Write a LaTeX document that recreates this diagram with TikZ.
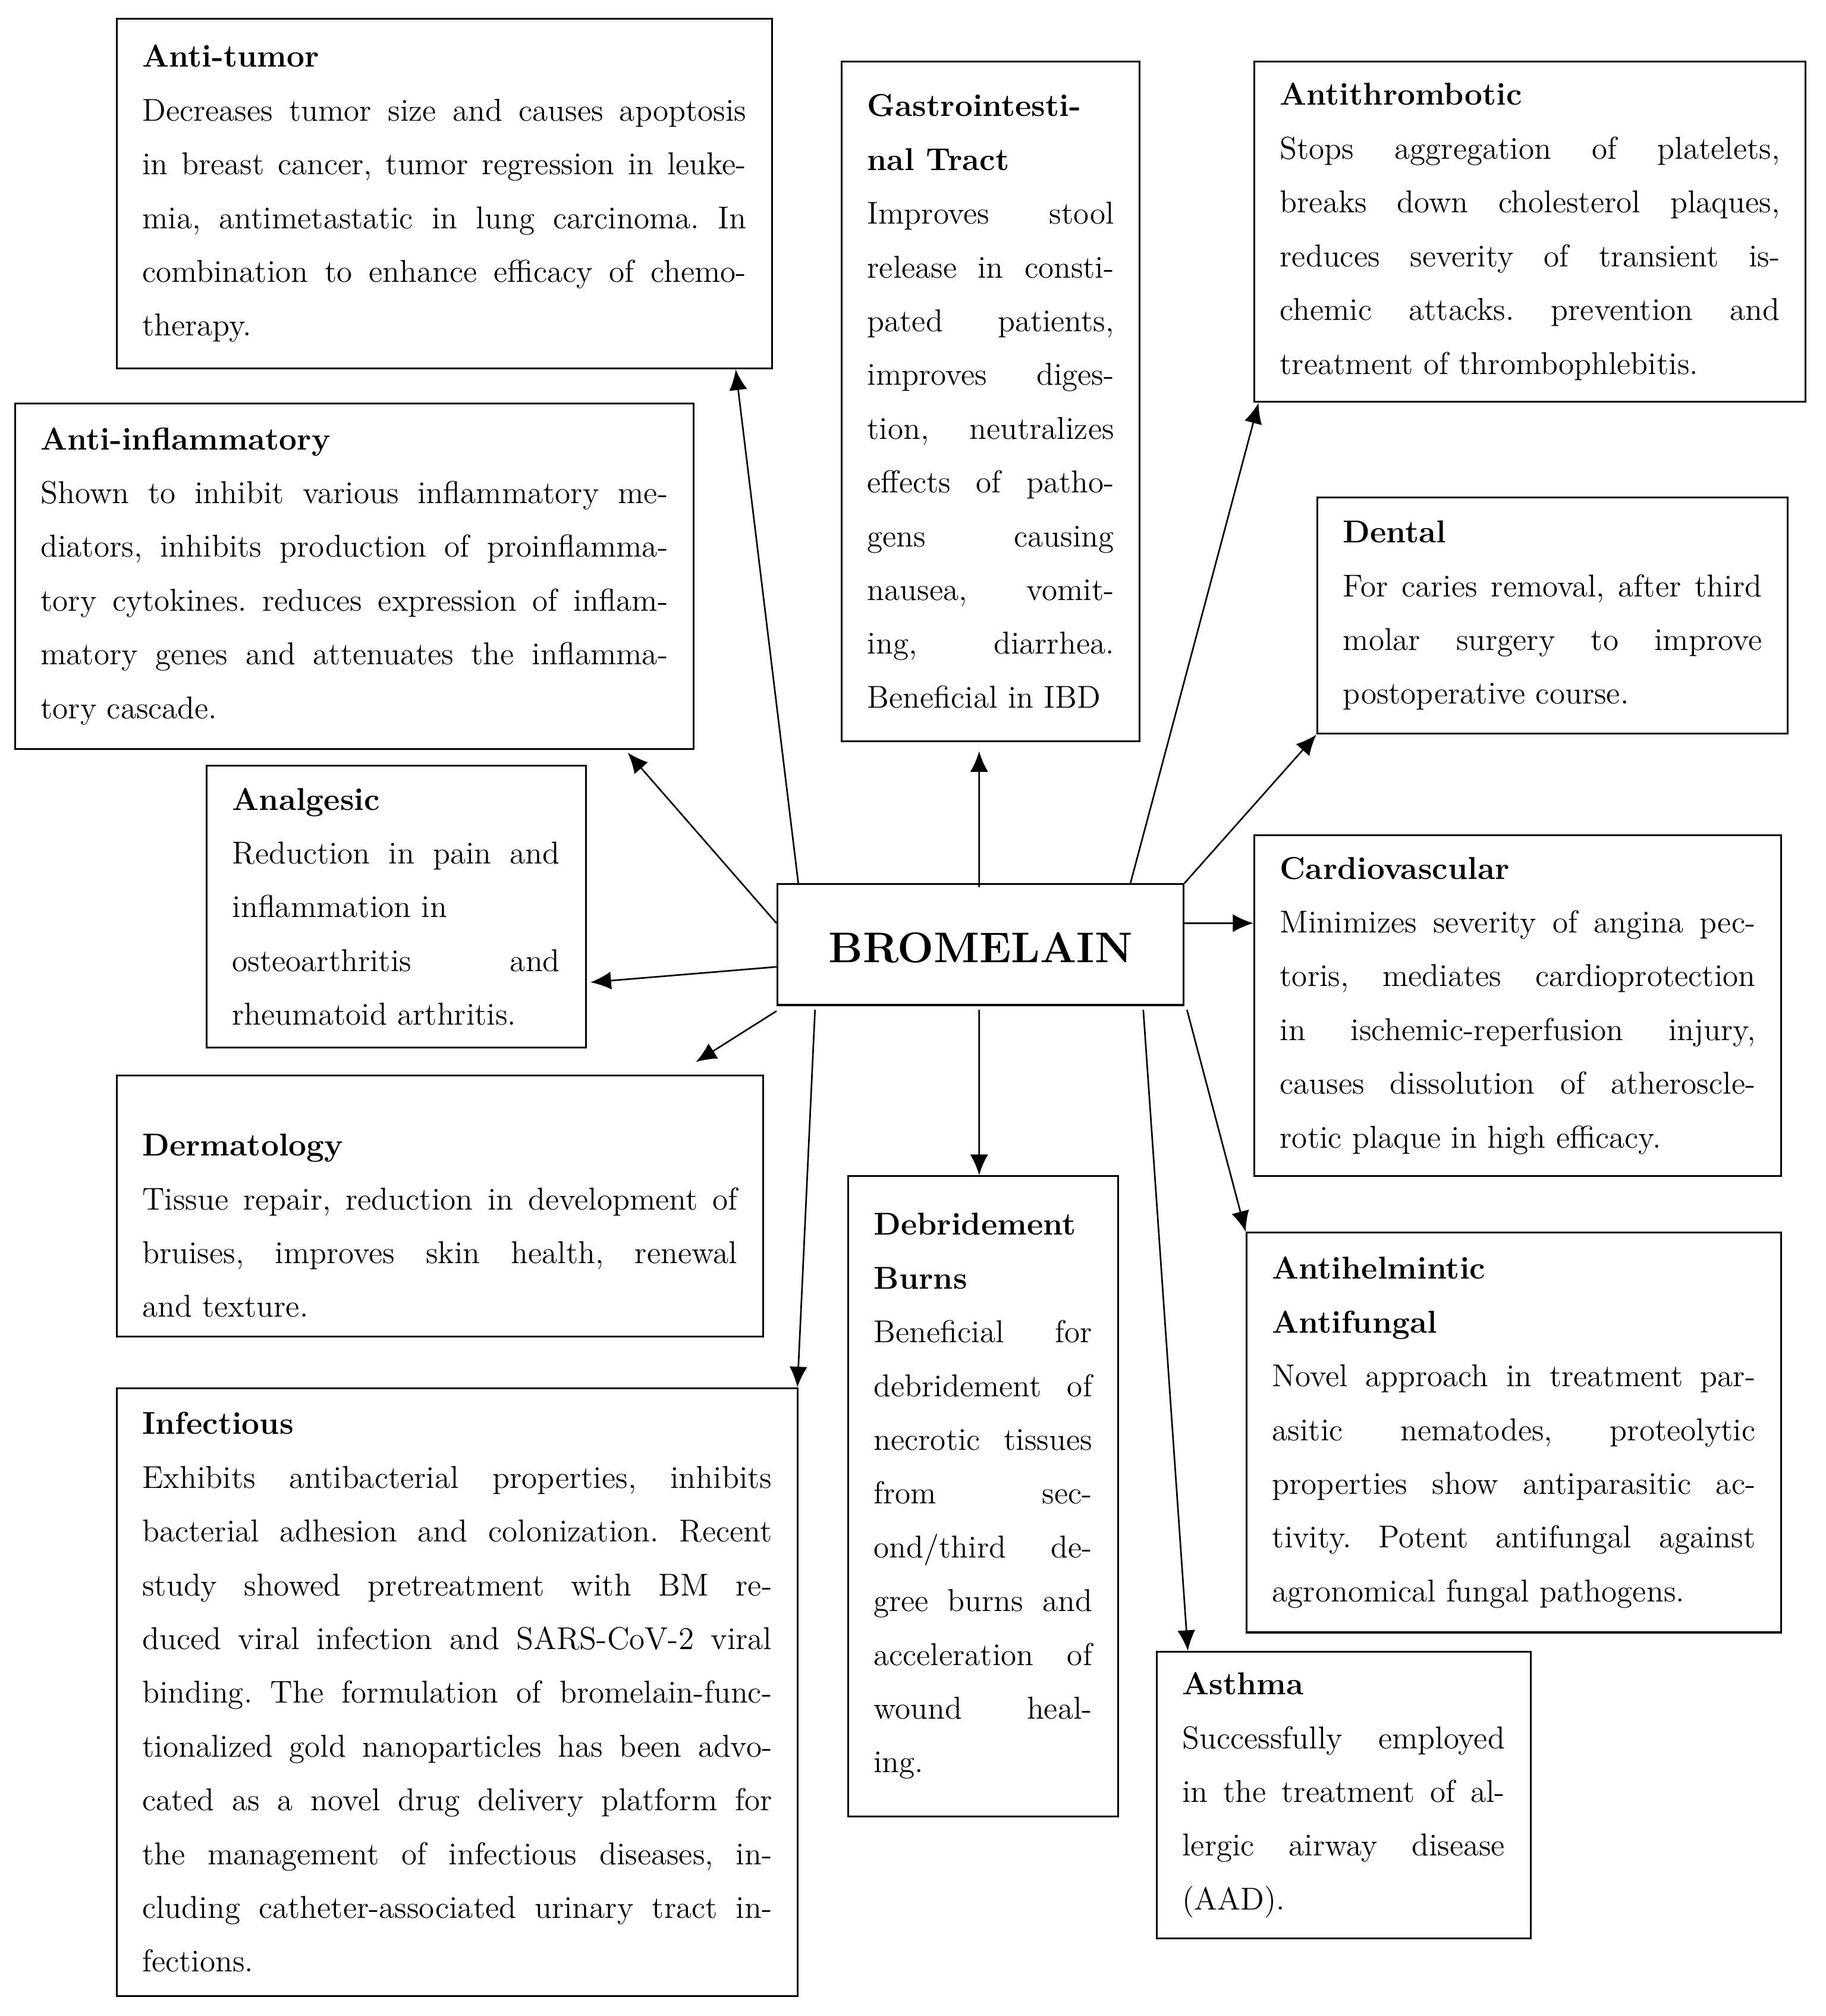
\documentclass[tikz,border=0pt]{standalone}
\usepackage{tikz}
\usetikzlibrary{arrows.meta,calc}
\tolerance=10000
\hbadness=10000
\hyphenpenalty=10000
\frenchspacing

\begin{document}
\begin{tikzpicture}[x=0.02cm, y=-0.02cm,
    infobox/.style={draw, line width=0.8pt, anchor=north west, align=justify, inner xsep=0.4cm, inner ysep=0pt,
        font=\fontsize{14}{23.8}\selectfont},
    centerbox/.style={draw, line width=0.8pt, anchor=north west, minimum width=6.32cm, minimum height=1.88cm,
        text height=0.6cm, text depth=0.04cm, font=\fontsize{19}{22}\selectfont\bfseries},
    arr/.style={-{Latex[length=0.32cm,width=0.28cm]}, line width=0.7pt}]
                \fill[white] (0,0) rectangle (1420,1568);
                \useasboundingbox (0,0) rectangle (1420,1568);

                \node[centerbox] (brom) at (604,687) {BROMELAIN};

                \node[infobox, text width=9.4cm, minimum height=5.44cm] (tumor) at (90,14) {\textbf{Anti-tumor}\\
                    Decreases tumor size and causes apoptosis\linebreak in breast cancer, tumor regression in leuke-\linebreak mia, antimetastatic in lung carcinoma. In\linebreak combination to enhance efficacy of chemo-\linebreak therapy.};
                \node[infobox, text width=3.84cm, minimum height=10.58cm] (gi) at (654,47) {\textbf{Gastrointesti-}\\\textbf{nal Tract}\\
                    Improves stool\linebreak release in consti-\linebreak pated patients,\linebreak improves diges-\linebreak tion, neutralizes\linebreak effects of patho-\linebreak gens causing\linebreak nausea, vomit-\linebreak ing, diarrhea.\linebreak Beneficial in IBD};
                \node[infobox, text width=7.78cm, minimum height=5.3cm] (thromb) at (975,47) {\textbf{Antithrombotic}\\
                    Stops aggregation of platelets,\linebreak breaks down cholesterol plaques,\linebreak reduces severity of transient is-\linebreak chemic attacks. prevention and\linebreak treatment of thrombophlebitis.};
                \node[infobox, text width=9.76cm, minimum height=5.38cm] (inflam) at (11,313) {\textbf{Anti-inflammatory}\\
                    Shown to inhibit various inflammatory me-\linebreak diators, inhibits production of proinflamma-\linebreak tory cytokines. reduces expression of inflam-\linebreak matory genes and attenuates the inflamma-\linebreak tory cascade.};
                \node[infobox, text width=6.52cm, minimum height=3.68cm] (dental) at (1024,386) {\textbf{Dental}\\
                    For caries removal, after third\linebreak molar surgery to improve\linebreak postoperative course.};
                \node[infobox, text width=5.1cm, minimum height=4.38cm] (analg) at (160,595) {\textbf{Analgesic}\\
                    Reduction in pain and\linebreak inflammation in\\ osteoarthritis and\linebreak rheumatoid arthritis.};
                \node[infobox, text width=7.4cm, minimum height=5.3cm] (cardio) at (975,649) {\textbf{Cardiovascular}\\
                    Minimizes severity of angina pec-\linebreak toris, mediates cardioprotection\linebreak in ischemic-reperfusion injury,\linebreak causes dissolution of atheroscle-\linebreak rotic plaque in high efficacy.};
                \node[infobox, text width=9.26cm, minimum height=4.06cm] (derm) at (90,836) {\rule{0pt}{27pt}\textbf{Dermatology}\\
                    Tissue repair, reduction in development of\linebreak bruises, improves skin health, renewal\linebreak and texture.};
                \node[infobox, text width=3.4cm, minimum height=9.96cm] (debr) at (659,914) {\textbf{Debridement}\\\textbf{Burns}\\
                    Beneficial for\linebreak debridement of\linebreak necrotic tissues\linebreak from sec-\linebreak ond/third de-\linebreak gree burns and\linebreak acceleration of\linebreak wound heal-\linebreak ing.};
                \node[infobox, text width=7.52cm, minimum height=6.22cm] (helm) at (969,958) {\textbf{Antihelmintic}\\\textbf{Antifungal}\\
                    Novel approach in treatment par-\linebreak asitic nematodes, proteolytic\linebreak properties show antiparasitic ac-\linebreak tivity. Potent antifungal against\linebreak agronomical fungal pathogens.};
                \node[infobox, text width=9.8cm, minimum height=9.46cm] (infect) at (90,1079) {\textbf{Infectious}\\
                    Exhibits antibacterial properties, inhibits\linebreak bacterial adhesion and colonization. Recent\linebreak study showed pretreatment with BM re-\linebreak duced viral infection and SARS-CoV-2 viral\linebreak binding. The formulation of bromelain-func-\linebreak tionalized gold nanoparticles has been advo-\linebreak cated as a novel drug delivery platform for\linebreak the management of infectious diseases, in-\linebreak cluding catheter-associated urinary tract in-\linebreak fections.};
                \node[infobox, text width=5.02cm, minimum height=4.46cm] (asthma) at (899,1284) {\textbf{Asthma}\\
                    Successfully employed\linebreak in the treatment of al-\linebreak lergic airway disease\linebreak (AAD).};

                \draw[arr] ($(brom.north west)+(17,0)$) -- ($(tumor.south east)+(-29,0)$);
                \draw[arr] ($(brom.north west)+(0,31)$) -- ($(inflam.south east)+(-52,2)$);
                \draw[arr] ($(brom.north west)+(0,65)$) -- ($(analg.north east)+(3,169)$);
                \draw[arr] ($(brom.south west)+(0,4)$) -- ($(derm.north east)+(-53,-10)$);
                \draw[arr] ($(brom.south west)+(30,3)$) -- ($(infect.north east)+(-1,0)$);
                \draw[arr] ($(brom.north)+(-1,3)$) -- ($(gi.south)+(-9,7)$);
                \draw[arr] ($(brom.south)+(-1,3)$) -- ($(debr.north)+(-3,0)$);
                \draw[arr] ($(brom.north east)+(-42,0)$) -- ($(thromb.south west)+(4,0)$);
                \draw[arr] (brom.north east) -- (dental.south west);
                \draw[arr] ($(brom.north east)+(0,31)$) -- ($(cardio.north west)+(0,69)$);
                \draw[arr] ($(brom.south east)+(2,3)$) -- (helm.north west);
                \draw[arr] ($(brom.south east)+(-32,3)$) -- ($(asthma.north west)+(25,0)$);
            \end{tikzpicture}
\end{document}
